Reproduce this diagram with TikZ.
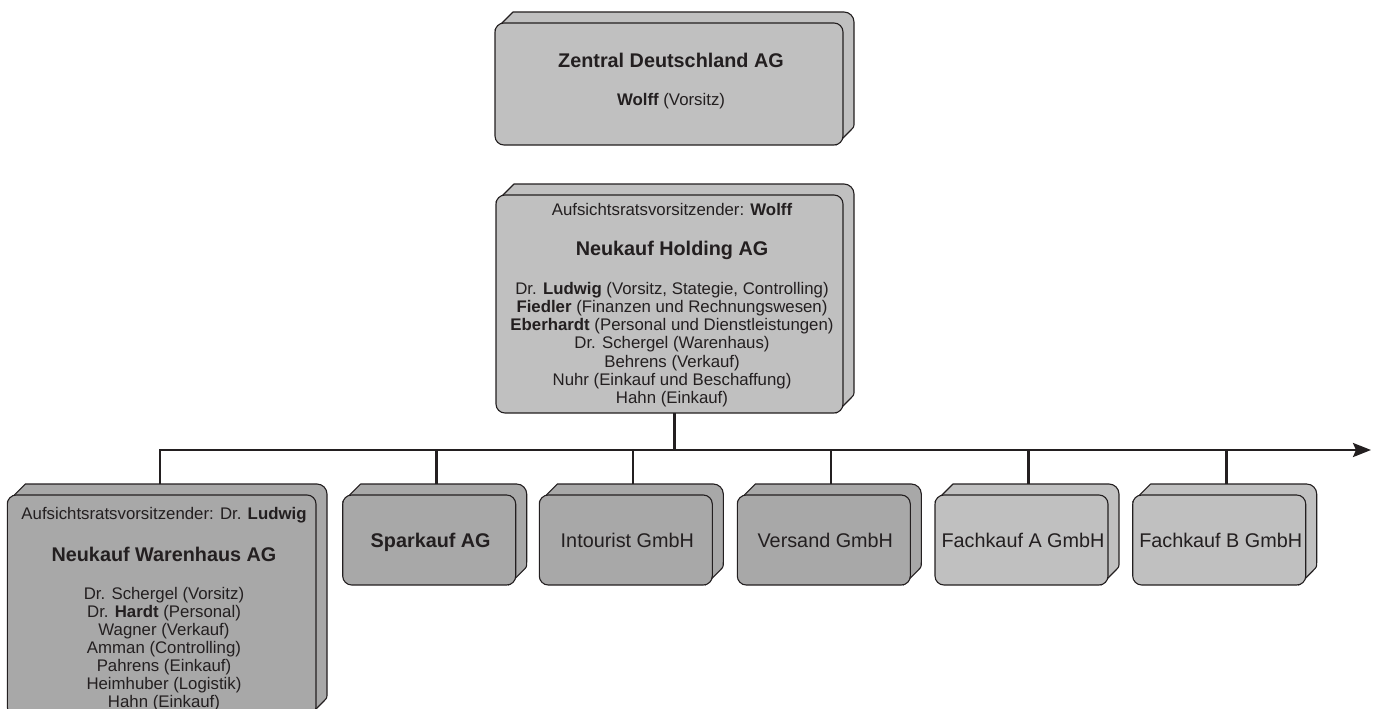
\documentclass[tikz,border=0pt]{standalone}
\usepackage{fontspec}
\setmainfont{Liberation Sans}
\usetikzlibrary{arrows.meta,backgrounds}
\definecolor{ink}{RGB}{35,31,32}
\definecolor{paleface}{RGB}{192,192,192}
\definecolor{darkface}{RGB}{168,168,168}
\newcommand\fsz[2]{\fontsize{#1}{#2}\selectfont}
% extruded back of a box: visible top and right faces behind the front node #1
\newcommand\boxback[2]{%
  \draw[boxline, fill=#2, line join=round]
    ([yshift=-7pt]#1.north west)
    -- ([xshift=18pt,yshift=11pt]#1.north west)
    -- ([xshift=1pt,yshift=11pt]#1.north east)
    .. controls ([xshift=6.5pt,yshift=11pt]#1.north east) and ([xshift=11pt,yshift=6.5pt]#1.north east) .. ([xshift=11pt,yshift=1pt]#1.north east)
    -- ([xshift=11pt,yshift=23pt]#1.south east)
    .. controls ([xshift=11pt,yshift=18pt]#1.south east) .. ([xshift=7.46pt,yshift=14.46pt]#1.south east)
    -- ([xshift=-7pt]#1.south east)
    -- ([xshift=-20pt,yshift=20pt]#1.south east)
    -- ([xshift=20pt,yshift=-20pt]#1.north west)
    -- cycle;}
\begin{document}
\begin{tikzpicture}[x=1pt,y=-1pt,
  boxline/.style={draw=ink, line width=1.1pt},
  frontface/.style={boxline, rectangle, rounded corners=9pt, anchor=north west, inner sep=0pt, outer sep=0pt},
  palebox/.style={frontface, fill=paleface},
  darkbox/.style={frontface, fill=darkface},
  smallbox/.style={minimum width=173pt, minimum height=90pt},
  txtline/.style={text=ink, anchor=base, inner sep=0pt, font=\fsz{16.8}{18}},
  titletxt/.style={text=ink, anchor=base, inner sep=0pt, font=\bfseries\fsz{19.8}{22}},
  nametxt/.style={text=ink, anchor=base, inner sep=0pt, font=\fsz{19.8}{22}},
  busline/.style={draw=ink, line width=2.6pt},
]
\useasboundingbox (0,0) rectangle (1376,709);

% front faces
\node[palebox, minimum width=348pt, minimum height=122pt] (zda) at (495,23) {};
\node[palebox, minimum width=347pt, minimum height=218pt] (hold) at (496,195) {};
\node[darkbox, minimum width=308.7pt, minimum height=221pt] (nwh) at (7.3,495) {};
\node[darkbox, smallbox] (spk) at (342.7,495) {};
\node[darkbox, smallbox] (itr) at (539.3,495) {};
\node[darkbox, smallbox] (vsd) at (737.3,495) {};
\node[palebox, smallbox] (fka) at (935,495) {};
\node[palebox, smallbox] (fkb) at (1132.7,495) {};

% back faces
\begin{scope}[on background layer]
  \boxback{zda}{paleface}
  \boxback{hold}{paleface}
  \boxback{nwh}{darkface}
  \boxback{spk}{darkface}
  \boxback{itr}{darkface}
  \boxback{vsd}{darkface}
  \boxback{fka}{paleface}
  \boxback{fkb}{paleface}
\end{scope}

% Zentral Deutschland AG
\node[titletxt] (zda-name) at (671,67.5) {Zentral Deutschland AG};
\node[txtline] (zda-chair) at (671,105.5) {\textbf{Wolff} (Vorsitz)};

% Neukauf Holding AG
\node[txtline] (hold-sup) at (672,215.7) {Aufsichtsratsvorsitzender: \textbf{Wolff}};
\node[titletxt] (hold-name) at (672,255) {Neukauf Holding AG};
\foreach \t [count=\i from 0] in {%
    {Dr. \textbf{Ludwig} (Vorsitz, Stategie, Controlling)},
    {\textbf{Fiedler} (Finanzen und Rechnungswesen)},
    {\textbf{Eberhardt} (Personal und Dienstleistungen)},
    {Dr. Schergel (Warenhaus)},
    {Behrens (Verkauf)},
    {Nuhr (Einkauf und Beschaffung)},
    {Hahn (Einkauf)}}
  \node[txtline] (hold-m\i) at (672,294+18.33*\i) {\t};

% Neukauf Warenhaus AG
\node[txtline] (nwh-sup) at (164,519.3) {Aufsichtsratsvorsitzender: Dr. \textbf{Ludwig}};
\node[titletxt] (nwh-name) at (164,561.7) {Neukauf Warenhaus AG};
\foreach \t [count=\i from 0] in {%
    {Dr. Schergel (Vorsitz)},
    {Dr. \textbf{Hardt} (Personal)},
    {Wagner (Verkauf)},
    {Amman (Controlling)},
    {Pahrens (Einkauf)},
    {Heimhuber (Logistik)},
    {Hahn (Einkauf)}}
  \node[txtline] (nwh-m\i) at (164,599.3+18*\i) {\t};

% subsidiaries
\node[titletxt] (spk-name) at (430.7,547.3) {Sparkauf AG};
\node[nametxt] (itr-name) at (627.3,547.3) {Intourist GmbH};
\node[nametxt] (vsd-name) at (825.3,547.3) {Versand GmbH};
\node[nametxt] (fka-name) at (1023,547.3) {Fachkauf A GmbH};
\node[nametxt] (fkb-name) at (1220.7,547.3) {Fachkauf B GmbH};

% bus with connectors
\coordinate (busend) at (1371,450);
\draw[busline, -{Stealth[length=18pt,width=14pt,inset=3pt]}]
  ([xshift=-1.7pt,yshift=11pt]nwh.north) |- (busend);
\draw[busline] ([xshift=5pt]hold.south) -- ([xshift=5pt]hold.south |- busend);
\foreach \b in {spk,itr,vsd,fka,fkb}
  \draw[busline] ([xshift=7pt]\b.north |- busend) -- ([xshift=7pt,yshift=11pt]\b.north);
\end{tikzpicture}
\end{document}
